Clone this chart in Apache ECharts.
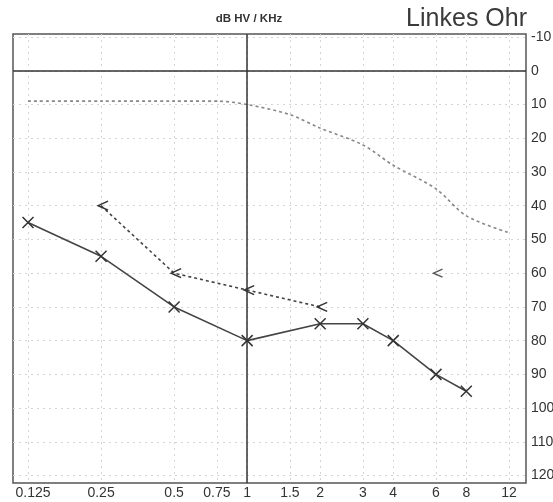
<!DOCTYPE html>
<html>
<head>
<meta charset="utf-8">
<script src="https://cdn.jsdelivr.net/npm/echarts@6/dist/echarts.min.js"></script>
<style>
html,body{margin:0;padding:0;background:#fff;}
#chart{width:553px;height:502px;}
</style>
</head>
<body>
<div id="chart"></div>
<script>
// Frequency tick labels (kHz)
var freqTicks = [0.125, 0.25, 0.5, 0.75, 1, 1.5, 2, 3, 4, 6, 8, 12];
// Hearing level tick labels (dB HV)
var dbTicks = [-10, 0, 10, 20, 30, 40, 50, 60, 70, 80, 90, 100, 110, 120];
// Air conduction (X, solid)
var airFreq = [0.125, 0.25, 0.5, 1, 2, 3, 4, 6, 8];
var airDb   = [45, 55, 70, 80, 75, 75, 80, 90, 95];
// Bone conduction (<, dashed)
var boneFreq = [0.25, 0.5, 1, 2];
var boneDb   = [40, 60, 65, 70];
// Isolated bone marker
var boneSingleFreq = [6];
var boneSingleDb   = [60];
// Reference dotted curve
var refFreq = [0.125, 0.25, 0.5, 0.75, 1, 1.5, 2, 3, 4, 6, 8, 12];
var refDb   = [9, 9, 9, 9, 10, 13, 17, 22, 28, 35, 43, 48];

function pairs(f, d){ return f.map(function(v,i){ return [v, d[i]]; }); }

var FONT = '"Liberation Sans", Arial, sans-serif';
var chart = echarts.init(document.getElementById('chart'), null, {renderer:'canvas'});
chart.setOption({
  animation: false,
  backgroundColor: '#fff',
  title: [
    {text: 'dB HV / KHz', left: 249, top: 13, textAlign: 'center', padding: 0,
     textStyle: {fontFamily: FONT, fontSize: 11.5, fontWeight: 'bold', color: '#333'}},
    {text: 'Linkes Ohr', right: 26, top: 7, padding: 0,
     textStyle: {fontFamily: FONT, fontSize: 25, fontWeight: 'normal', color: '#3a3a3a'}}
  ],
  grid: {left: 13, right: 27, top: 34, bottom: 19, show: true, borderColor: '#555', borderWidth: 1.5,
         containLabel: false, outerBoundsMode: 'none'},
  xAxis: {
    type: 'log', logBase: 2, min: 0.1084, max: 14.1,
    axisLine: {show: false},
    axisTick: {show: false, customValues: freqTicks},
    axisLabel: {customValues: freqTicks, color: '#333', fontFamily: FONT, fontSize: 14, margin: 3,
      formatter: function(v){
        var s = String(+v.toFixed(3));
        return v < 0.2 ? '{first|' + s + '}' : s;
      },
      rich: {first: {fontFamily: FONT, fontSize: 14, color: '#333', padding: [0, 0, 0, 10]}}
    },
    splitLine: {show: true, lineStyle: {color: '#d4d4d4', type: [2,4], width: 1}}
  },
  yAxis: {
    type: 'value', position: 'right', inverse: true, min: -10.9, max: 122.2,
    axisLine: {show: false},
    axisTick: {show: false, customValues: dbTicks},
    axisLabel: {customValues: dbTicks, color: '#333', fontFamily: FONT, fontSize: 14, margin: 5},
    splitLine: {show: true, lineStyle: {color: '#d4d4d4', type: [2,4], width: 1}}
  },
  series: [
    {
      type: 'line', data: pairs(refFreq, refDb), showSymbol: false, smooth: 0.3,
      lineStyle: {color: '#888', width: 1.6, type: [3,3]},
      markLine: {
        silent: true, symbol: 'none', label: {show: false},
        data: [
          {xAxis: 1, lineStyle: {color: '#333', width: 1.5, type: 'solid'}},
          {yAxis: 0, lineStyle: {color: '#333', width: 1.5, type: 'solid'}}
        ]
      }
    },
    {
      type: 'line', data: pairs(boneFreq, boneDb),
      symbol: 'path://M10,0L0,5L10,10', symbolSize: [10, 9], symbolOffset: [2, 0],
      itemStyle: {color: 'none', borderColor: '#333', borderWidth: 1.5},
      lineStyle: {color: '#444', width: 1.6, type: [3,3]}
    },
    {
      type: 'scatter', data: pairs(boneSingleFreq, boneSingleDb),
      symbol: 'path://M10,0L0,5L10,10', symbolSize: [9, 8], symbolOffset: [2, 0],
      itemStyle: {color: 'none', borderColor: '#333', borderWidth: 1.5}
    },
    {
      type: 'line', data: pairs(airFreq, airDb),
      symbol: 'path://M0,0L10,10M10,0L0,10', symbolSize: 11,
      itemStyle: {color: 'none', borderColor: '#333', borderWidth: 1.5},
      lineStyle: {color: '#444', width: 1.6}
    }
  ]
});
</script>
</body>
</html>
